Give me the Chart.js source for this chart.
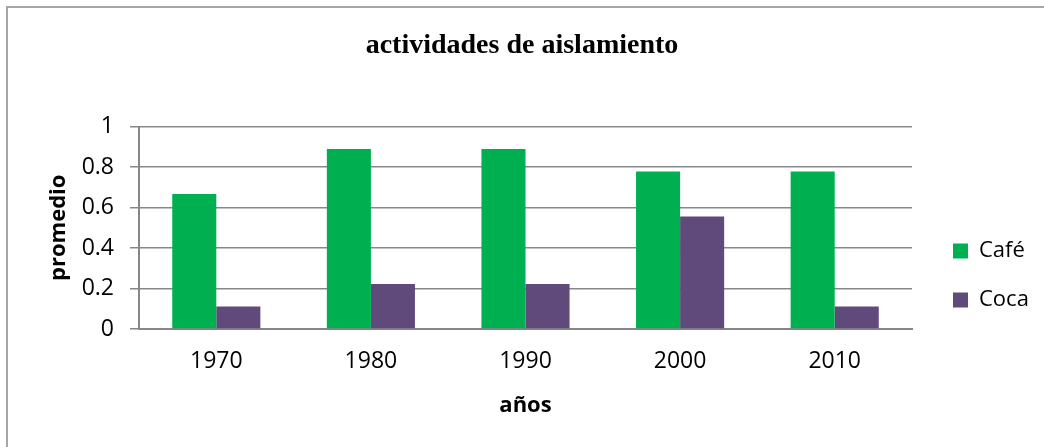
<!DOCTYPE html>
<html>
<head>
<meta charset="utf-8">
<script src="https://cdn.jsdelivr.net/npm/chart.js@4.4.1/dist/chart.umd.min.js"></script>
<style>
  html, body { margin: 0; padding: 0; background: #fff; }
  #wrap { width: 1044px; height: 447px; position: relative; }
</style>
</head>
<body>
<div id="wrap"><canvas id="barChart" width="1044" height="447"></canvas></div>
<script>
// data
const years = ["1970", "1980", "1990", "2000", "2010"];
const cafe = [0.667, 0.889, 0.889, 0.778, 0.778];
const coca = [0.111, 0.222, 0.222, 0.556, 0.111];
const yTicks = [0, 0.2, 0.4, 0.6, 0.8, 1];

const gridColor = "#878787";
const sansFont = "'Open Sans', sans-serif";

// thin frame round the chart (top and left edges only show)
const frame = {
  id: "frame",
  beforeDraw(chart) {
    const ctx = chart.ctx;
    ctx.save();
    ctx.strokeStyle = "#a6a6a6";
    ctx.lineWidth = 2;
    ctx.beginPath();
    ctx.moveTo(7, 447);
    ctx.lineTo(7, 7);
    ctx.lineTo(1044, 7);
    ctx.stroke();
    ctx.restore();
  },
};

// fixed legend width and a small nudge so the boxes sit where they should
const legendFit = {
  id: "legendFit",
  beforeInit(chart) {
    const lg = chart.legend;
    const origFit = lg.fit.bind(lg);
    lg.fit = function () {
      origFit();
      this.width = 132;
    };
    const origDraw = lg.draw.bind(lg);
    lg.draw = function () {
      const ctx = chart.ctx;
      ctx.save();
      ctx.translate(14, 52);
      origDraw();
      ctx.restore();
    };
  },
};

new Chart(document.getElementById("barChart"), {
  type: "bar",
  data: {
    labels: years,
    datasets: [
      { label: "Café", data: cafe, backgroundColor: "#00b050" },
      { label: "Coca", data: coca, backgroundColor: "#604a7b" },
    ],
  },
  options: {
    responsive: false,
    animation: false,
    devicePixelRatio: 1,
    layout: { padding: 0 },
    datasets: {
      bar: { categoryPercentage: 0.57, barPercentage: 1.0 },
    },
    plugins: {
      title: {
        display: true,
        text: "actividades de aislamiento",
        color: "#000",
        font: { family: "'Liberation Serif', serif", size: 28, weight: "bold" },
        padding: { top: 29, bottom: 64 },
      },
      legend: {
        position: "right",
        labels: {
          color: "#000",
          boxWidth: 15,
          boxHeight: 15,
          padding: 27,
          font: { family: sansFont, size: 22 },
        },
      },
      tooltip: { enabled: false },
    },
    scales: {
      x: {
        grid: { display: true, drawOnChartArea: false, drawTicks: false },
        border: { display: true, color: gridColor, width: 2 },
        ticks: { color: "#000", padding: 19, font: { family: sansFont, size: 23 } },
        title: {
          display: true,
          text: "años",
          color: "#000",
          font: { family: sansFont, size: 22, weight: "bold" },
          padding: { top: 0, bottom: 28 },
        },
        afterFit(scale) {
          scale.height = 447 - 329;
        },
      },
      y: {
        min: 0,
        max: 1,
        afterBuildTicks(scale) {
          scale.ticks = yTicks.map((v) => ({ value: v }));
        },
        grid: { color: gridColor, lineWidth: 1.5, tickLength: 9 },
        border: { display: true, color: gridColor, width: 2 },
        ticks: {
          color: "#000",
          padding: 16,
          font: { family: sansFont, size: 23 },
          callback: (v) => String(v),
        },
        title: {
          display: true,
          text: "promedio",
          color: "#000",
          font: { family: sansFont, size: 22, weight: "bold" },
          padding: { top: 46, bottom: 0 },
        },
        afterFit(scale) {
          scale.width = 139;
        },
      },
    },
  },
  plugins: [frame, legendFit],
});
</script>
</body>
</html>
